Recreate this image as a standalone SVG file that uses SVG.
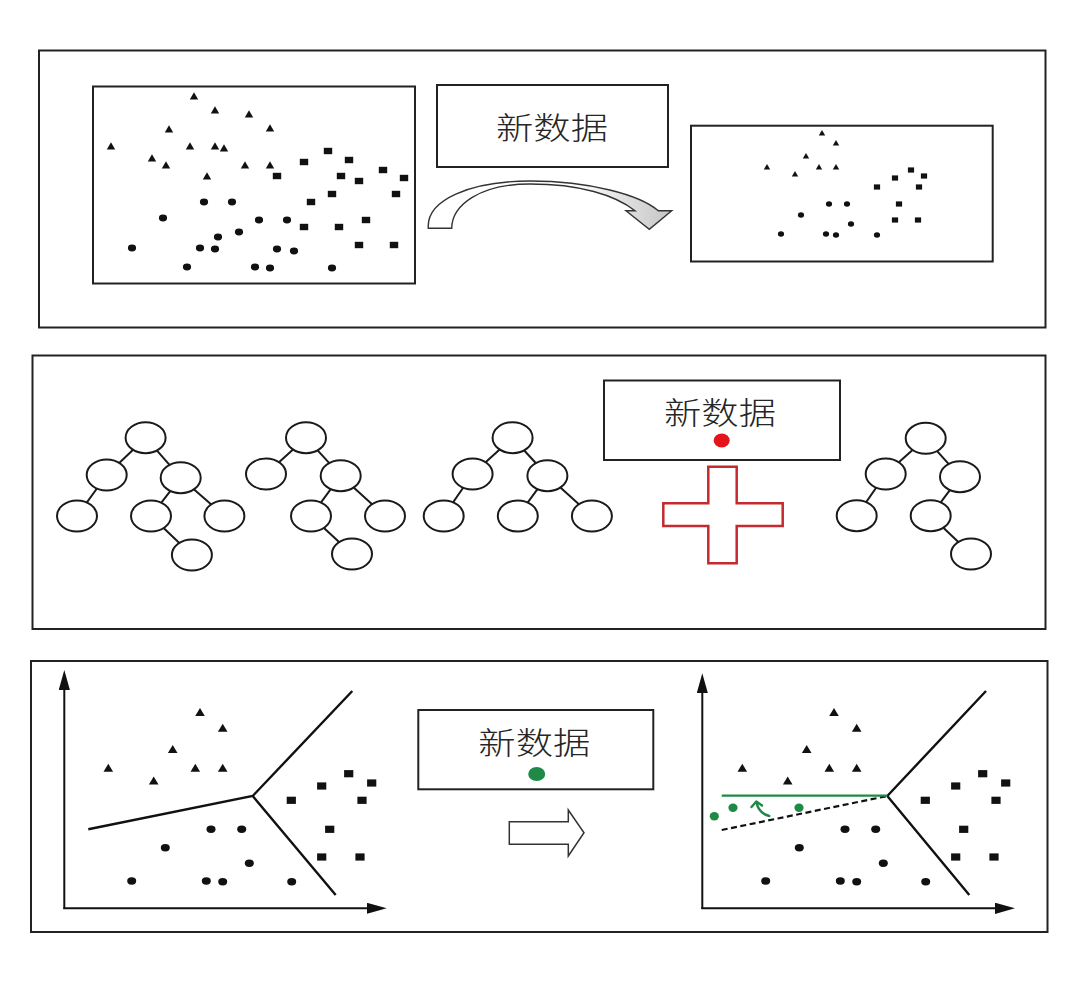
<svg xmlns="http://www.w3.org/2000/svg" xmlns:xlink="http://www.w3.org/1999/xlink" width="1080" height="982" viewBox="0 0 1080 982">
<style>
.frame{fill:none;stroke:#222;stroke-width:2}
.box{fill:#fff;stroke:#222;stroke-width:2}
.lbl{font-family:"Noto Sans CJK SC","Noto Sans CJK JP",sans-serif;font-size:31px;font-weight:300;fill:#262626;text-anchor:middle;dominant-baseline:central}
.edge{stroke:#1a1a1a;stroke-width:2;fill:none}
.tn{fill:#fff;stroke:#1a1a1a;stroke-width:2}
.mk{fill:#111}
.bound{stroke:#111;stroke-width:2.4;fill:none}
.axis{stroke:#111;stroke-width:2;fill:none}
.green{fill:#1f8a46}
</style>
<defs>
<path id="triL" class="mk" d="M0,-3.8 L4.2,3.4 L-4.2,3.4 Z"/>
<rect id="sqL" class="mk" x="-4.2" y="-3.2" width="8.4" height="6.4"/>
<ellipse id="ciL" class="mk" rx="4.1" ry="3.4"/>
<path id="triS" class="mk" d="M0,-2.9 L3.2,2.6 L-3.2,2.6 Z"/>
<rect id="sqS" class="mk" x="-3.1" y="-2.6" width="6.2" height="5.2"/>
<ellipse id="ciS" class="mk" rx="3.1" ry="2.7"/>
<path id="triB" class="mk" d="M0,-4.2 L4.8,3.8 L-4.8,3.8 Z"/>
<rect id="sqB" class="mk" x="-4.6" y="-3.6" width="9.2" height="7.2"/>
<ellipse id="ciB" class="mk" rx="4.5" ry="3.7"/>
<marker id="ah" markerUnits="userSpaceOnUse" markerWidth="22" markerHeight="12" refX="12" refY="5.6" orient="auto">
<path d="M0,0 L20,5.6 L0,11.2 Z" fill="#111"/>
</marker>
<linearGradient id="arrowFill" gradientUnits="userSpaceOnUse" x1="428" y1="0" x2="672" y2="0">
<stop offset="0" stop-color="#fff"/>
<stop offset="0.6" stop-color="#fff"/>
<stop offset="1" stop-color="#c4c4c4"/>
</linearGradient>
<g id="bottomPts">
<use href="#triB" x="200" y="712.3"/>
<use href="#triB" x="222.7" y="728"/>
<use href="#triB" x="172.7" y="749.3"/>
<use href="#triB" x="108.3" y="768"/>
<use href="#triB" x="195.3" y="768"/>
<use href="#triB" x="222.7" y="768"/>
<use href="#triB" x="153.7" y="780.7"/>
<use href="#sqB" x="348.7" y="773.7"/>
<use href="#sqB" x="321.7" y="786"/>
<use href="#sqB" x="371.7" y="783"/>
<use href="#sqB" x="291.3" y="800.3"/>
<use href="#sqB" x="362" y="800.3"/>
<use href="#sqB" x="329.7" y="829.3"/>
<use href="#sqB" x="321.7" y="857"/>
<use href="#sqB" x="360" y="857"/>
<use href="#ciB" x="211" y="829.3"/>
<use href="#ciB" x="241.7" y="829.3"/>
<use href="#ciB" x="165.3" y="847.7"/>
<use href="#ciB" x="249.3" y="863.3"/>
<use href="#ciB" x="131.7" y="881"/>
<use href="#ciB" x="206.3" y="881"/>
<use href="#ciB" x="222.7" y="881.7"/>
<use href="#ciB" x="291.7" y="881.7"/>
</g>
</defs>
<rect width="1080" height="982" fill="#fff"/>

<!-- Panel frames -->
<g id="frames">
<rect class="frame" x="39" y="50.5" width="1006.5" height="277"/>
<rect class="frame" x="32.5" y="355.5" width="1013" height="273.5"/>
<rect class="frame" x="31" y="661" width="1016.5" height="271"/>
</g>

<!-- Panel 1 -->
<g id="scatter-full">
<rect class="frame" x="93" y="86.5" width="322" height="197"/>
<use href="#triL" x="194" y="96"/>
<use href="#triL" x="215" y="110"/>
<use href="#triL" x="249" y="114"/>
<use href="#triL" x="169" y="129"/>
<use href="#triL" x="270" y="128"/>
<use href="#triL" x="111" y="146"/>
<use href="#triL" x="190" y="146"/>
<use href="#triL" x="215" y="146"/>
<use href="#triL" x="224" y="148"/>
<use href="#triL" x="152" y="158"/>
<use href="#triL" x="166" y="165"/>
<use href="#triL" x="245" y="165"/>
<use href="#triL" x="270" y="165"/>
<use href="#triL" x="207" y="176"/>
<use href="#sqL" x="328" y="151"/>
<use href="#sqL" x="304" y="162"/>
<use href="#sqL" x="349" y="160"/>
<use href="#sqL" x="383" y="170"/>
<use href="#sqL" x="277" y="176"/>
<use href="#sqL" x="341" y="176"/>
<use href="#sqL" x="359" y="181"/>
<use href="#sqL" x="404" y="178"/>
<use href="#sqL" x="332" y="194"/>
<use href="#sqL" x="396" y="194"/>
<use href="#sqL" x="311" y="202"/>
<use href="#sqL" x="366" y="220"/>
<use href="#sqL" x="304" y="227"/>
<use href="#sqL" x="339" y="227"/>
<use href="#sqL" x="359" y="245"/>
<use href="#sqL" x="394" y="245"/>
<use href="#ciL" x="204" y="202"/>
<use href="#ciL" x="232" y="202"/>
<use href="#ciL" x="163" y="218"/>
<use href="#ciL" x="259" y="220"/>
<use href="#ciL" x="287" y="220"/>
<use href="#ciL" x="239" y="232"/>
<use href="#ciL" x="218" y="237"/>
<use href="#ciL" x="132" y="248"/>
<use href="#ciL" x="200" y="248"/>
<use href="#ciL" x="215" y="249"/>
<use href="#ciL" x="277" y="249"/>
<use href="#ciL" x="294" y="251"/>
<use href="#ciL" x="187" y="267"/>
<use href="#ciL" x="255" y="267"/>
<use href="#ciL" x="270" y="268"/>
<use href="#ciL" x="332" y="268"/>
</g>

<g id="newdata-1">
<rect class="box" x="437" y="85" width="231" height="82"/>
<text class="lbl" x="552" y="125" textLength="112" lengthAdjust="spacingAndGlyphs">新数据</text>
</g>

<g id="curved-arrow">
<path d="M428.3,228.3 C426,200 470,181 530,181 C590,181 640,195 658.3,210.7 L671.7,210.7 L649.3,229.3 L626,210.7 L635,210.7 C615,195 580,184 530,184 C480,184 452,205 451.7,228.3 Z" fill="url(#arrowFill)" stroke="#333" stroke-width="1.4" stroke-linejoin="miter"/>
</g>

<g id="scatter-sample">
<rect class="frame" x="691" y="125.7" width="301.7" height="135.8"/>
<use href="#triS" x="822" y="133"/>
<use href="#triS" x="836" y="143"/>
<use href="#triS" x="806" y="156"/>
<use href="#triS" x="767" y="167"/>
<use href="#triS" x="795" y="174"/>
<use href="#triS" x="819" y="167"/>
<use href="#triS" x="836" y="167"/>
<use href="#sqS" x="911" y="170"/>
<use href="#sqS" x="895" y="178"/>
<use href="#sqS" x="924" y="176"/>
<use href="#sqS" x="877" y="187"/>
<use href="#sqS" x="919" y="187"/>
<use href="#sqS" x="899" y="204"/>
<use href="#sqS" x="895" y="220"/>
<use href="#sqS" x="918" y="220"/>
<use href="#ciS" x="829" y="204"/>
<use href="#ciS" x="847" y="204"/>
<use href="#ciS" x="801" y="215"/>
<use href="#ciS" x="851" y="224"/>
<use href="#ciS" x="781" y="234"/>
<use href="#ciS" x="826" y="234"/>
<use href="#ciS" x="836" y="235"/>
<use href="#ciS" x="877" y="235"/>
</g>

<!-- Panel 2: trees -->
<g id="tree-edges">
<path class="edge" d="M145.6,437.7 L106.7,475 M145.6,437.7 L180.7,477.7 M106.7,475 L77,516 M180.7,477.7 L151,516 M180.7,477.7 L224.4,516 M151,516 L191.9,555"/>
<path class="edge" d="M306,437.7 L266,474 M306,437.7 L340.7,475.7 M340.7,475.7 L311,516 M340.7,475.7 L385,516 M311,516 L352,554"/>
<path class="edge" d="M512.6,437.7 L472.6,474 M512.6,437.7 L547.4,475.7 M472.6,474 L443.7,516 M547.4,475.7 L517.8,516 M547.4,475.7 L591.9,516"/>
<path class="edge" d="M925.7,438.3 L885.7,474 M925.7,438.3 L960,476.7 M885.7,474 L856.7,515.7 M960,476.7 L930.7,515.7 M930.7,515.7 L971,554"/>
</g>
<g id="tree-1">
<ellipse class="tn" cx="145.6" cy="437.7" rx="20" ry="15.5"/>
<ellipse class="tn" cx="106.7" cy="475" rx="20" ry="15.5"/>
<ellipse class="tn" cx="180.7" cy="477.7" rx="20" ry="15.5"/>
<ellipse class="tn" cx="77" cy="516" rx="20" ry="15.5"/>
<ellipse class="tn" cx="151" cy="516" rx="20" ry="15.5"/>
<ellipse class="tn" cx="224.4" cy="516" rx="20" ry="15.5"/>
<ellipse class="tn" cx="191.9" cy="555" rx="20" ry="15.5"/>
</g>
<g id="tree-2">
<ellipse class="tn" cx="306" cy="437.7" rx="20" ry="15.5"/>
<ellipse class="tn" cx="266" cy="474" rx="20" ry="15.5"/>
<ellipse class="tn" cx="340.7" cy="475.7" rx="20" ry="15.5"/>
<ellipse class="tn" cx="311" cy="516" rx="20" ry="15.5"/>
<ellipse class="tn" cx="385" cy="516" rx="20" ry="15.5"/>
<ellipse class="tn" cx="352" cy="554" rx="20" ry="15.5"/>
</g>
<g id="tree-3">
<ellipse class="tn" cx="512.6" cy="437.7" rx="20" ry="15.5"/>
<ellipse class="tn" cx="472.6" cy="474" rx="20" ry="15.5"/>
<ellipse class="tn" cx="547.4" cy="475.7" rx="20" ry="15.5"/>
<ellipse class="tn" cx="443.7" cy="516" rx="20" ry="15.5"/>
<ellipse class="tn" cx="517.8" cy="516" rx="20" ry="15.5"/>
<ellipse class="tn" cx="591.9" cy="516" rx="20" ry="15.5"/>
</g>
<g id="newdata-2">
<rect class="box" x="604" y="380.5" width="236" height="79.5"/>
<text class="lbl" x="720" y="410" textLength="112" lengthAdjust="spacingAndGlyphs">新数据</text>
<ellipse cx="721.7" cy="440.5" rx="8" ry="7" fill="#e3141b"/>
</g>
<g id="plus">
<path d="M708.3,466.7 H736.7 V503.3 H782.7 V526 H736.7 V563.3 H708.3 V526 H663.3 V503.3 H708.3 Z" fill="#fff" stroke="#c42a2e" stroke-width="2.5"/>
</g>
<g id="tree-4">
<ellipse class="tn" cx="925.7" cy="438.3" rx="20" ry="15.5"/>
<ellipse class="tn" cx="885.7" cy="474" rx="20" ry="15.5"/>
<ellipse class="tn" cx="960" cy="476.7" rx="20" ry="15.5"/>
<ellipse class="tn" cx="856.7" cy="515.7" rx="20" ry="15.5"/>
<ellipse class="tn" cx="930.7" cy="515.7" rx="20" ry="15.5"/>
<ellipse class="tn" cx="971" cy="554" rx="20" ry="15.5"/>
</g>

<!-- Panel 3 -->
<g id="plot-left">
<line class="axis" x1="64.3" y1="909" x2="64.3" y2="678" marker-end="url(#ah)"/>
<line class="axis" x1="63.3" y1="908.3" x2="378.7" y2="908.3" marker-end="url(#ah)"/>
<path class="bound" d="M88.3,829.3 L252.7,796 L352.3,691 M252.7,796 L335.7,895"/>
<use href="#bottomPts"/>
</g>

<g id="newdata-3">
<rect class="box" x="418.3" y="710" width="235" height="79.3"/>
<text class="lbl" x="534.3" y="740" textLength="112" lengthAdjust="spacingAndGlyphs">新数据</text>
<ellipse cx="536.7" cy="774" rx="8.5" ry="7" class="green"/>
</g>
<g id="hollow-arrow">
<path d="M509.3,821.7 H568.3 V810 L584,832.7 L568.3,856 V844.3 H509.3 Z" fill="#fff" stroke="#333" stroke-width="1.5"/>
</g>

<g id="plot-right">
<line class="axis" x1="702.3" y1="909" x2="702.3" y2="681.3" marker-end="url(#ah)"/>
<line class="axis" x1="701.3" y1="908.3" x2="1007" y2="908.3" marker-end="url(#ah)"/>
<path class="bound" d="M887.3,796 L986,691 M887.3,796 L969.3,895"/>
<line x1="721.7" y1="830" x2="887.3" y2="796" stroke="#111" stroke-width="2.2" stroke-dasharray="6,3.5"/>
<line x1="721.7" y1="795.7" x2="887.3" y2="795.7" stroke="#1f8a46" stroke-width="2.2"/>
<use href="#bottomPts" transform="translate(634,0)"/>
<ellipse class="green" cx="714.3" cy="816.3" rx="4.6" ry="4.2"/>
<ellipse class="green" cx="733" cy="807.7" rx="4.6" ry="4.2"/>
<ellipse class="green" cx="799" cy="807.7" rx="4.6" ry="4.2"/>
<path d="M769.3,816 Q758.5,813 756.5,802.5 M751.5,807 L756.3,801.5 L762,805.5" fill="none" stroke="#1f8a46" stroke-width="2.4" stroke-linecap="round" stroke-linejoin="round"/>
</g>
</svg>
